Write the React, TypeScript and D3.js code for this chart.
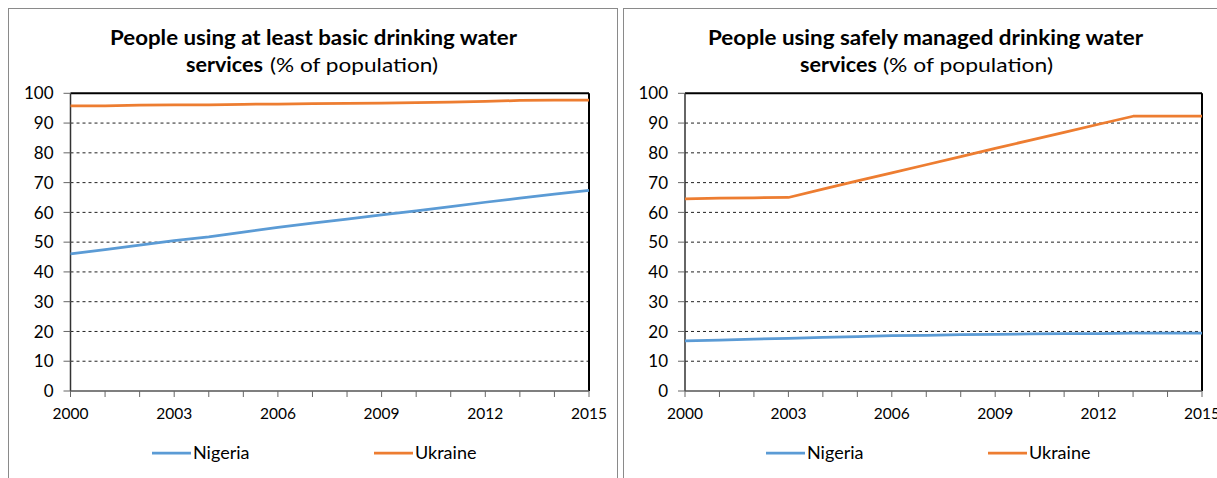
import React from "react";
import * as d3 from "d3";

const years = d3.range(2000, 2016);
const xTickYears = [2000, 2003, 2006, 2009, 2012, 2015];
const yTicks = [0, 10, 20, 30, 40, 50, 60, 70, 80, 90, 100];

// At least basic drinking water services (% of population)
const basicNigeria = [46.1, 47.5, 49.0, 50.5, 51.8, 53.4, 55.0, 56.4, 57.7, 59.2, 60.5, 61.9, 63.4, 64.8, 66.1, 67.4];
const basicUkraine = [95.8, 95.8, 96.0, 96.1, 96.1, 96.3, 96.4, 96.5, 96.6, 96.7, 96.9, 97.0, 97.3, 97.6, 97.7, 97.7];

// Safely managed drinking water services (% of population)
const safeNigeria = [16.8, 17.1, 17.4, 17.7, 18.0, 18.3, 18.6, 18.7, 18.9, 19.0, 19.2, 19.3, 19.3, 19.4, 19.4, 19.4];
const safeUkraine = [64.5, 64.8, 64.9, 65.0, 67.8, 70.6, 73.3, 76.0, 78.7, 81.5, 84.2, 86.9, 89.6, 92.3, 92.3, 92.3];

const seriesNames = ["Nigeria", "Ukraine"];
const seriesColors = ["#5B9BD5", "#ED7D31"];

const FONT = "Lato, 'Open Sans', sans-serif";

type PanelProps = {
  left: number;
  width: number;
  plotLeft: number;
  plotRight: number;
  titleBold: string;
  title1: [number, number];
  title2: [number, number, number, number];
  data: number[][];
  legendX: [number, number];
};

function Panel(p: PanelProps) {
  const top = 93.3;
  const bottom = 391;
  const x = d3.scaleLinear().domain([2000, 2015]).range([p.plotLeft, p.plotRight]);
  const y = d3.scaleLinear().domain([0, 100]).range([bottom, top]);
  const line = d3
    .line<number>()
    .x((_, i) => x(years[i]))
    .y((v) => y(v));

  return (
    <g>
      <rect x={p.left + 0.5} y={8.5} width={p.width} height={490} fill="#fff" stroke="#8a8a8a" strokeWidth={1} />
      {/* title */}
      <text x={p.title1[0]} y={45} fontFamily={FONT} fontWeight="bold" fontSize={20} fill="#000" textLength={p.title1[1]} lengthAdjust="spacingAndGlyphs">
        {p.titleBold}
      </text>
      <text x={p.title2[0]} y={72} fontFamily={FONT} fontWeight="bold" fontSize={20} fill="#000" textLength={p.title2[1]} lengthAdjust="spacingAndGlyphs">
        services
      </text>
      <text x={p.title2[2]} y={72} fontFamily={FONT} fontSize={20} fill="#000" textLength={p.title2[3]} lengthAdjust="spacingAndGlyphs">
        (% of population)
      </text>

      {/* gridlines */}
      {yTicks
        .filter((t) => t > 0 && t < 100)
        .map((t) => (
          <line key={t} x1={p.plotLeft} x2={p.plotRight} y1={y(t)} y2={y(t)} stroke="#222" strokeWidth={1} strokeDasharray="3,3" />
        ))}
      {/* plot frame */}
      <line x1={p.plotLeft} x2={p.plotRight} y1={y(100)} y2={y(100)} stroke="#000" strokeWidth={2} />
      <line x1={p.plotRight} x2={p.plotRight} y1={y(100)} y2={y(0)} stroke="#000" strokeWidth={2} />

      {/* y axis */}
      <line x1={p.plotLeft} x2={p.plotLeft} y1={y(100)} y2={y(0)} stroke="#333" strokeWidth={1.5} />
      {yTicks.map((t) => (
        <g key={t}>
          <line x1={p.plotLeft - 7} x2={p.plotLeft} y1={y(t)} y2={y(t)} stroke="#666" strokeWidth={1} />
          <text x={p.plotLeft - 17} y={y(t)} dy="0.36em" textAnchor="end" fontFamily={FONT} fontSize={17} fill="#000">
            {t}
          </text>
        </g>
      ))}

      {/* x axis */}
      <line x1={p.plotLeft} x2={p.plotRight} y1={y(0)} y2={y(0)} stroke="#555" strokeWidth={1.5} />
      {years.map((yr) => (
        <line key={yr} x1={x(yr)} x2={x(yr)} y1={y(0)} y2={y(0) + 6} stroke="#666" strokeWidth={1} />
      ))}
      {xTickYears.map((yr) => (
        <text key={yr} x={x(yr)} y={419} textAnchor="middle" fontFamily={FONT} fontSize={15.5} fill="#000">
          {yr}
        </text>
      ))}

      {/* series */}
      {p.data.map((d, i) => (
        <path key={i} d={line(d) || ""} fill="none" stroke={seriesColors[i]} strokeWidth={2.75} strokeLinejoin="round" />
      ))}

      {/* legend */}
      {seriesNames.map((name, i) => (
        <g key={name}>
          <line x1={p.legendX[i]} x2={p.legendX[i] + 39} y1={453} y2={453} stroke={seriesColors[i]} strokeWidth={2.75} />
          <text x={p.legendX[i] + 41} y={459} fontFamily={FONT} fontSize={18} fill="#000">
            {name}
          </text>
        </g>
      ))}
    </g>
  );
}

export default function App() {
  return (
    <svg width={1217} height={478} style={{ position: "absolute", left: 0, top: 0, display: "block" }}>
      <rect width={1217} height={478} fill="#fff" />
      <Panel
        left={8}
        width={609}
        plotLeft={70.5}
        plotRight={589}
        titleBold="People using at least basic drinking water"
        title1={[110, 407]}
        title2={[186, 77, 270, 168]}
        data={[basicNigeria, basicUkraine]}
        legendX={[152, 374]}
      />
      <Panel
        left={623}
        width={640}
        plotLeft={685}
        plotRight={1202}
        titleBold="People using safely managed drinking water"
        title1={[708, 435]}
        title2={[800, 77, 883, 170]}
        data={[safeNigeria, safeUkraine]}
        legendX={[766, 988]}
      />
    </svg>
  );
}
